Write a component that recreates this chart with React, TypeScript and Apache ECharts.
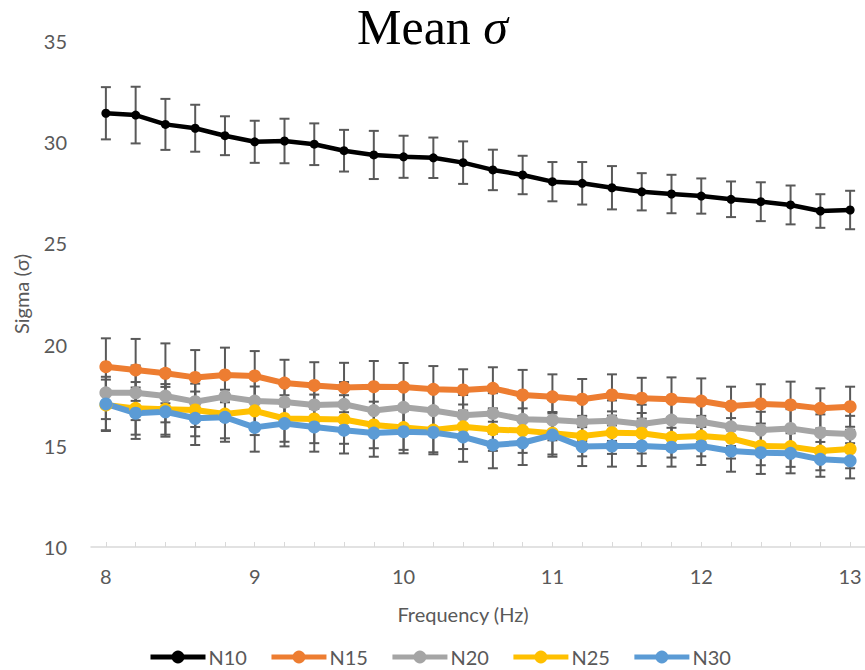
import React, { useEffect, useRef } from "react";
import * as echarts from "echarts";

const frequencies = ["8", "8.2", "8.4", "8.6", "8.8", "9", "9.2", "9.4", "9.6", "9.8", "10", "10.2", "10.4", "10.6", "10.8", "11", "11.2", "11.4", "11.6", "11.8", "12", "12.2", "12.4", "12.6", "12.8", "13"];

const n10 = [31.43, 31.34, 30.88, 30.69, 30.32, 30.02, 30.06, 29.9, 29.58, 29.37, 29.28, 29.23, 28.99, 28.63, 28.38, 28.05, 27.97, 27.75, 27.55, 27.44, 27.34, 27.18, 27.06, 26.9, 26.6, 26.65];
const n10Err = [1.29, 1.4, 1.26, 1.16, 0.96, 1.04, 1.1, 1.03, 1.03, 1.19, 1.04, 1.0, 1.05, 1.0, 0.95, 0.97, 1.05, 1.07, 0.92, 0.95, 0.87, 0.88, 0.96, 0.96, 0.83, 0.95];

const n15 = [18.91, 18.75, 18.58, 18.38, 18.5, 18.45, 18.1, 17.98, 17.88, 17.92, 17.9, 17.79, 17.76, 17.84, 17.51, 17.42, 17.3, 17.51, 17.35, 17.3, 17.21, 16.97, 17.07, 17.02, 16.85, 16.93];
const n15Err = [1.4, 1.53, 1.48, 1.35, 1.35, 1.23, 1.15, 1.15, 1.22, 1.27, 1.19, 1.15, 1.02, 1.04, 1.24, 1.11, 1.0, 1.02, 1.01, 1.08, 1.12, 0.95, 0.97, 1.15, 0.99, 0.99];

const n20 = [17.62, 17.62, 17.46, 17.18, 17.43, 17.21, 17.16, 17.02, 17.05, 16.74, 16.9, 16.74, 16.51, 16.6, 16.31, 16.27, 16.19, 16.24, 16.08, 16.27, 16.19, 15.94, 15.78, 15.86, 15.65, 15.58];
const n20Err = [1.3, 1.35, 1.3, 1.25, 1.2, 1.15, 1.1, 1.1, 1.1, 1.1, 1.05, 1.05, 1.0, 1.0, 1.05, 1.0, 0.95, 1.0, 0.95, 0.95, 1.0, 0.95, 0.9, 0.95, 0.9, 0.9];

const n25 = [17.02, 16.85, 16.8, 16.77, 16.57, 16.73, 16.35, 16.33, 16.3, 16.03, 15.9, 15.78, 15.94, 15.8, 15.75, 15.62, 15.48, 15.65, 15.62, 15.42, 15.48, 15.37, 14.99, 14.96, 14.74, 14.84];
const n25Err = [1.25, 1.3, 1.25, 1.3, 1.2, 1.2, 1.15, 1.2, 1.2, 1.15, 1.1, 1.1, 1.1, 1.05, 1.1, 1.05, 1.0, 1.05, 1.0, 1.0, 1.0, 1.0, 0.95, 1.0, 0.95, 0.95];

const n30 = [17.07, 16.61, 16.68, 16.36, 16.41, 15.91, 16.1, 15.93, 15.77, 15.63, 15.7, 15.66, 15.44, 15.04, 15.15, 15.53, 14.96, 14.99, 14.99, 14.93, 14.99, 14.74, 14.66, 14.63, 14.33, 14.26];
const n30Err = [1.34, 1.27, 1.23, 1.32, 1.21, 1.2, 1.13, 1.22, 1.15, 1.17, 1.07, 1.08, 1.23, 1.15, 1.1, 1.07, 0.96, 1.02, 0.99, 0.96, 0.94, 1.02, 1.05, 0.99, 0.86, 0.87];

const yTicks = [10, 15, 20, 25, 30, 35];

const seriesDefs = [
  { name: "N10", values: n10, errs: n10Err, color: "#000000", width: 4.5, symbolSize: 9 },
  { name: "N15", values: n15, errs: n15Err, color: "#ED7D31", width: 6, symbolSize: 13 },
  { name: "N20", values: n20, errs: n20Err, color: "#A5A5A5", width: 6, symbolSize: 13 },
  { name: "N25", values: n25, errs: n25Err, color: "#FFC000", width: 6, symbolSize: 13 },
  { name: "N30", values: n30, errs: n30Err, color: "#5B9BD5", width: 6, symbolSize: 13 },
];

const FONT = "Lato, 'Open Sans', sans-serif";
const TXT = "#595959";

export default function App() {
  const ref = useRef<HTMLDivElement>(null);
  useEffect(() => {
    if (!ref.current) return;
    const chart = echarts.init(ref.current, null, { renderer: "svg" });

    const errorSeries = seriesDefs.map((s) => ({
      type: "custom",
      name: s.name + " error",
      z: 1,
      silent: true,
      encode: { x: 0, y: [1, 2] },
      data: s.values.map((v, i) => [i, v - s.errs[i], v + s.errs[i]]),
      renderItem: (params: any, api: any) => {
        const i = api.value(0);
        const lo = api.coord([i, api.value(1)]);
        const hi = api.coord([i, api.value(2)]);
        const hw = 5;
        const style = { stroke: "#595959", lineWidth: 2 };
        return {
          type: "group",
          children: [
            { type: "line", shape: { x1: lo[0], y1: lo[1], x2: hi[0], y2: hi[1] }, style },
            { type: "line", shape: { x1: lo[0] - hw, y1: lo[1], x2: lo[0] + hw, y2: lo[1] }, style },
            { type: "line", shape: { x1: hi[0] - hw, y1: hi[1], x2: hi[0] + hw, y2: hi[1] }, style },
          ],
        };
      },
    }));

    const lineSeries = seriesDefs.map((s) => ({
      type: "line",
      name: s.name,
      z: 3,
      data: s.values,
      symbol: "circle",
      symbolSize: s.symbolSize,
      color: s.color,
      lineStyle: { color: s.color, width: s.width },
      itemStyle: { color: s.color },
    }));

    chart.setOption({
      animation: false,
      backgroundColor: "#ffffff",
      title: {
        text: "{a|Mean }{b|σ}",
        left: 357,
        top: 2,
        padding: 0,
        textStyle: {
          fontWeight: "normal",
          rich: {
            a: { fontFamily: "'Liberation Serif', serif", fontSize: 50, fontWeight: "normal", color: "#000" },
            b: { fontFamily: "'Liberation Serif', serif", fontSize: 50, fontWeight: "normal", fontStyle: "italic", color: "#000" },
          },
        },
      },
      grid: { left: 91, right: 0, top: 41, bottom: 123, containLabel: false },
      legend: {
        data: seriesDefs.map((s) => s.name),
        left: 143,
        top: 642,
        itemWidth: 55,
        itemHeight: 16,
        itemGap: 22,
        lineStyle: { width: 5 },
        textStyle: { fontFamily: FONT, fontSize: 20, color: TXT, padding: [0, 0, 0, -2] },
      },
      xAxis: {
        type: "category",
        data: frequencies,
        boundaryGap: true,
        name: "Frequency (Hz)",
        nameLocation: "middle",
        nameGap: 57,
        nameTextStyle: { fontFamily: FONT, fontSize: 20, color: TXT, padding: [0, 30, 0, 0] },
        axisLine: { lineStyle: { color: "#d9d9d9", width: 1.5 } },
        axisTick: { show: true, alignWithLabel: true, interval: 0, inside: true, length: 5, lineStyle: { color: "#d9d9d9" } },
        axisLabel: { interval: 4, fontFamily: FONT, fontSize: 20, color: TXT, margin: 19 },
        splitLine: { show: false },
      },
      yAxis: {
        type: "value",
        min: yTicks[0],
        max: yTicks[yTicks.length - 1],
        interval: yTicks[1] - yTicks[0],
        name: "Sigma (σ)",
        nameLocation: "middle",
        nameGap: 60,
        nameTextStyle: { fontFamily: FONT, fontSize: 20, color: TXT },
        axisLine: { show: false },
        axisTick: { show: false },
        splitLine: { show: false },
        axisLabel: { fontFamily: FONT, fontSize: 20, color: TXT, margin: 24 },
      },
      series: [...errorSeries, ...lineSeries],
    });
    return () => chart.dispose();
  }, []);
  return (
    <div
      ref={ref}
      style={{ position: "fixed", left: 0, top: 0, width: 865, height: 670, background: "#fff" }}
    />
  );
}
